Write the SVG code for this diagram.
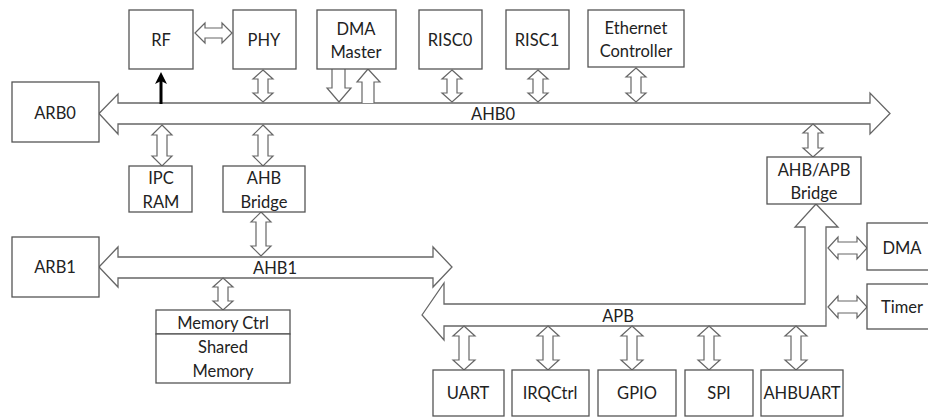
<svg xmlns="http://www.w3.org/2000/svg" width="928" height="417" viewBox="0 0 928 417">
<defs>
<style>
.box{fill:#fff;stroke:#555;stroke-width:1.3}
.bus{fill:#fff;stroke:#666;stroke-width:1.3;stroke-linejoin:miter}
.arr{fill:#fff;stroke:#666;stroke-width:1.2}
text{font-family:Lato,"Open Sans","Liberation Sans",sans-serif;font-size:16.5px;fill:#222;text-anchor:middle;dominant-baseline:central}
</style>
<marker id="blk" markerWidth="4" markerHeight="4" refX="2" refY="2" orient="auto" markerUnits="strokeWidth"><path d="M0,0 L4,2 L0,4 L1,2 Z" fill="#000"/></marker>
</defs>
<rect width="928" height="417" fill="#fff"/>
<g id="connectors">
<path id="ahb0" class="bus" d="M99,113.5 L118,94 L118,103 L870,103 L870,93 L890,113.5 L870,134 L870,124 L118,124 L118,134 Z"/>
<path id="ahb1" class="bus" d="M99,267 L118,247 L118,257 L433,257 L433,247 L452,267 L433,287 L433,278 L118,278 L118,287 Z"/>
<path id="apb" class="bus" d="M422,315 L444,283 L444,304 L805,304 L805,227 L795,227 L816,204 L838,227 L826,227 L826,326 L444,326 L444,340 Z"/>
<path class="arr" d="M263,70 L273,79 L268,79 L268,93 L273,93 L263,102 L253,93 L258,93 L258,79 L253,79 Z"/>
<path class="arr" d="M452,70 L462,79 L457,79 L457,93 L462,93 L452,102 L442,93 L447,93 L447,79 L442,79 Z"/>
<path class="arr" d="M538,70 L548,79 L543,79 L543,93 L548,93 L538,102 L528,93 L533,93 L533,79 L528,79 Z"/>
<path class="arr" d="M636,68 L646,77 L641,77 L641,93 L646,93 L636,102 L626,93 L631,93 L631,77 L626,77 Z"/>
<path class="arr" d="M162,125 L172,135 L167,135 L167,156 L172,156 L162,166 L152,156 L157,156 L157,135 L152,135 Z"/>
<path class="arr" d="M263,125 L273,135 L268,135 L268,156 L273,156 L263,166 L253,156 L258,156 L258,135 L253,135 Z"/>
<path class="arr" d="M261,212 L271,222 L266,222 L266,246 L271,246 L261,256 L251,246 L256,246 L256,222 L251,222 Z"/>
<path class="arr" d="M813,124 L823,133 L818,133 L818,148 L823,148 L813,157 L803,148 L808,148 L808,133 L803,133 Z"/>
<path class="arr" d="M223,278 L233,287 L228,287 L228,301 L233,301 L223,310 L213,301 L218,301 L218,287 L213,287 Z"/>
<path class="arr" d="M464,326 L475,336 L469,336 L469,360 L475,360 L464,370 L453,360 L459,360 L459,336 L453,336 Z"/>
<path class="arr" d="M548,326 L559,336 L553,336 L553,360 L559,360 L548,370 L537,360 L543,360 L543,336 L537,336 Z"/>
<path class="arr" d="M632,326 L643,336 L637,336 L637,360 L643,360 L632,370 L621,360 L627,360 L627,336 L621,336 Z"/>
<path class="arr" d="M709,326 L720,336 L714,336 L714,360 L720,360 L709,370 L698,360 L704,360 L704,336 L698,336 Z"/>
<path class="arr" d="M796,326 L807,336 L801,336 L801,360 L807,360 L796,370 L785,360 L791,360 L791,336 L785,336 Z"/>
<path class="arr" d="M195,33 L205,23 L205,28 L222,28 L222,23 L232,33 L222,43 L222,38 L205,38 L205,43 Z"/>
<path class="arr" d="M828,248 L838,237 L838,242 L857,242 L857,237 L867,248 L857,259 L857,254 L838,254 L838,259 Z"/>
<path class="arr" d="M828,307 L838,296 L838,301 L857,301 L857,296 L867,307 L857,318 L857,313 L838,313 L838,318 Z"/>
<path class="arr" d="M332,69 L332,88 L327,88 L339,102 L351,88 L345,88 L345,69"/>
<path class="arr" d="M362,103 L362,82 L357,82 L368,69 L380,82 L374,82 L374,103"/>
<line x1="161" y1="104" x2="161" y2="78" stroke="#000" stroke-width="3" marker-end="url(#blk)"/>
</g>
<g id="RF"><rect class="box" x="129" y="10" width="64" height="59"/><text x="161" y="40">RF</text></g>
<g id="PHY"><rect class="box" x="233" y="10" width="63" height="59"/><text x="264" y="40">PHY</text></g>
<g id="DMAMaster"><rect class="box" x="317" y="10" width="79" height="59"/><text x="356" y="29">DMA</text><text x="356" y="52">Master</text></g>
<g id="RISC0"><rect class="box" x="419" y="10" width="63" height="59"/><text x="450" y="40">RISC0</text></g>
<g id="RISC1"><rect class="box" x="506" y="10" width="63" height="59"/><text x="537" y="40">RISC1</text></g>
<g id="Ethernet"><rect class="box" x="588" y="10" width="96" height="57"/><text x="636" y="28">Ethernet</text><text x="636" y="51">Controller</text></g>
<g id="ARB0"><rect class="box" x="12" y="82" width="87" height="60"/><text x="55" y="113">ARB0</text></g>
<g id="IPCRAM"><rect class="box" x="129" y="166" width="63" height="46"/><text x="161" y="178">IPC</text><text x="161" y="202">RAM</text></g>
<g id="AHBBridge"><rect class="box" x="223" y="166" width="82" height="46"/><text x="264" y="178">AHB</text><text x="264" y="202">Bridge</text></g>
<g id="AHBAPB"><rect class="box" x="767" y="157" width="94" height="47"/><text x="814" y="170">AHB/APB</text><text x="814" y="193">Bridge</text></g>
<g id="ARB1"><rect class="box" x="12" y="237" width="87" height="60"/><text x="55" y="267">ARB1</text></g>
<g id="Memory"><rect class="box" x="156" y="310" width="134" height="24"/><rect class="box" x="156" y="334" width="134" height="49"/><text x="223" y="323">Memory Ctrl</text><text x="223" y="347">Shared</text><text x="223" y="371">Memory</text></g>
<g id="DMA"><rect class="box" x="867" y="223" width="70" height="47"/><text x="902" y="248">DMA</text></g>
<g id="Timer"><rect class="box" x="867" y="284" width="70" height="45"/><text x="902" y="307">Timer</text></g>
<g id="UART"><rect class="box" x="433" y="370" width="71" height="46"/><text x="468" y="393">UART</text></g>
<g id="IRQCtrl"><rect class="box" x="512" y="370" width="77" height="46"/><text x="550" y="393">IRQCtrl</text></g>
<g id="GPIO"><rect class="box" x="598" y="370" width="78" height="46"/><text x="637" y="393">GPIO</text></g>
<g id="SPI"><rect class="box" x="685" y="370" width="68" height="46"/><text x="719" y="393">SPI</text></g>
<g id="AHBUART"><rect class="box" x="761" y="370" width="82" height="46"/><text x="802" y="393">AHBUART</text></g>
<g id="labels"><text x="493" y="114">AHB0</text><text x="275" y="268">AHB1</text><text x="618" y="316">APB</text></g>
</svg>
